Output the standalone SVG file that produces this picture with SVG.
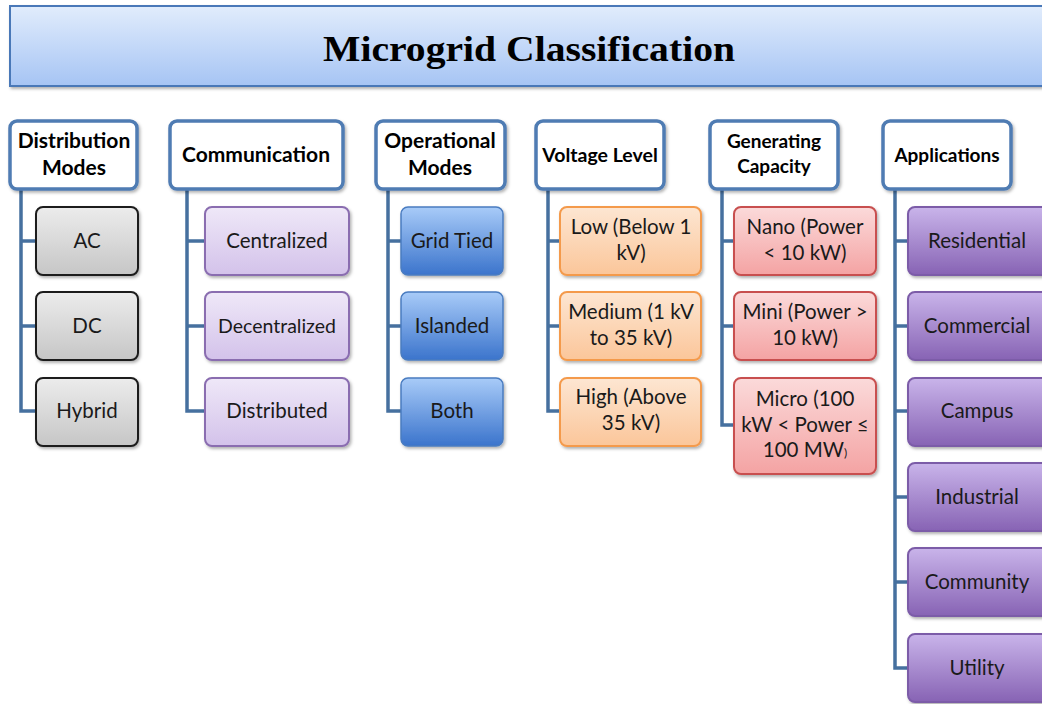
<svg xmlns="http://www.w3.org/2000/svg" width="1042" height="704" viewBox="0 0 1042 704">
<defs>
<linearGradient id="gTitle" x1="0" y1="0" x2="0" y2="1"><stop offset="0" stop-color="#e1ecfc"/><stop offset="1" stop-color="#a6c4f4"/></linearGradient>
<linearGradient id="gGray" x1="0" y1="0" x2="0" y2="1"><stop offset="0" stop-color="#ececec"/><stop offset="1" stop-color="#c6c6c6"/></linearGradient>
<linearGradient id="gLav" x1="0" y1="0" x2="0" y2="1"><stop offset="0" stop-color="#efe8f8"/><stop offset="1" stop-color="#d3c2ea"/></linearGradient>
<linearGradient id="gBlue" x1="0" y1="0" x2="0" y2="1"><stop offset="0" stop-color="#a8cbf8"/><stop offset="1" stop-color="#3b74cc"/></linearGradient>
<linearGradient id="gOrange" x1="0" y1="0" x2="0" y2="1"><stop offset="0" stop-color="#fde6d2"/><stop offset="1" stop-color="#fbc69a"/></linearGradient>
<linearGradient id="gRed" x1="0" y1="0" x2="0" y2="1"><stop offset="0" stop-color="#fbdada"/><stop offset="1" stop-color="#f4a3a3"/></linearGradient>
<linearGradient id="gPurple" x1="0" y1="0" x2="0" y2="1"><stop offset="0" stop-color="#c9b4ea"/><stop offset="1" stop-color="#8763b4"/></linearGradient>
<filter id="sh" x="-10%" y="-10%" width="125%" height="130%"><feDropShadow dx="1.5" dy="2" stdDeviation="1.5" flood-color="#000" flood-opacity="0.3"/></filter>
</defs>
<style>
.hdr{fill:#fff;stroke:#4f7bb3;stroke-width:3.5;filter:url(#sh)}
.ht{font-family:Lato,"Liberation Sans",sans-serif;font-weight:bold;font-size:21px;fill:#000;text-anchor:middle}
.ct{font-family:Lato,"Liberation Sans",sans-serif;font-size:20.5px;fill:#1a1a1a;text-anchor:middle}
.gray{fill:url(#gGray);stroke:#1e1e1e;stroke-width:2;filter:url(#sh)}
.lav{fill:url(#gLav);stroke:#8a6db0;stroke-width:2;filter:url(#sh)}
.blue{fill:url(#gBlue);stroke:#4a7cc0;stroke-width:1.5;filter:url(#sh)}
.orange{fill:url(#gOrange);stroke:#f49a4c;stroke-width:2;filter:url(#sh)}
.red{fill:url(#gRed);stroke:#c8504f;stroke-width:2;filter:url(#sh)}
.purple{fill:url(#gPurple);stroke:#7c5ca8;stroke-width:2;filter:url(#sh)}
.conn{fill:none;stroke:#46709f;stroke-width:3.5}
</style>
<rect width="1042" height="704" fill="#fff"/>
<g id="title">
<rect x="10" y="6" width="1040" height="80" fill="url(#gTitle)" stroke="#4a78b8" stroke-width="2" filter="url(#sh)"/>
<text x="529" y="61" font-family="'Liberation Serif',serif" font-weight="bold" font-size="36" text-anchor="middle" textLength="412" lengthAdjust="spacingAndGlyphs">Microgrid Classification</text>
</g>
<g id="connectors">
<path class="conn" d="M21 189V411H36M21 241H36M21 326H36"/>
<path class="conn" d="M187 189V411H205M187 241H205M187 326H205"/>
<path class="conn" d="M388 189V411H401M388 241H401M388 326H401"/>
<path class="conn" d="M548 189V411H560M548 241H560M548 326H560"/>
<path class="conn" d="M722 189V425H734M722 241H734M722 326H734"/>
<path class="conn" d="M895 189V668H908M895 241H908M895 326H908M895 411H908M895 497H908M895 582H908"/>
</g>
<g id="h-distribution"><rect class="hdr" x="10" y="121" width="127" height="68" rx="7"/><text class="ht" x="74" y="148">Distribution</text><text class="ht" x="74" y="175">Modes</text></g>
<g id="h-communication"><rect class="hdr" x="170" y="121" width="173" height="68" rx="7"/><text class="ht" x="256" y="162">Communication</text></g>
<g id="h-operational"><rect class="hdr" x="376" y="121" width="129" height="68" rx="7"/><text class="ht" x="440" y="148">Operational</text><text class="ht" x="440" y="175">Modes</text></g>
<g id="h-voltage"><rect class="hdr" x="536" y="121" width="128" height="68" rx="7"/><text class="ht" x="600" y="162" style="font-size:19.5px">Voltage Level</text></g>
<g id="h-generating"><rect class="hdr" x="710" y="121" width="128" height="68" rx="7"/><text class="ht" x="774" y="148" style="font-size:19px">Generating</text><text class="ht" x="774" y="173" style="font-size:19px">Capacity</text></g>
<g id="h-applications"><rect class="hdr" x="883" y="121" width="128" height="68" rx="7"/><text class="ht" x="947" y="162" style="font-size:19px">Applications</text></g>

<g id="ac"><rect class="gray" x="36" y="207" width="102" height="68" rx="7"/><text class="ct" x="87" y="248">AC</text></g>
<g id="dc"><rect class="gray" x="36" y="292" width="102" height="68" rx="7"/><text class="ct" x="87" y="333">DC</text></g>
<g id="hybrid"><rect class="gray" x="36" y="378" width="102" height="68" rx="7"/><text class="ct" x="87" y="418">Hybrid</text></g>

<g id="centralized"><rect class="lav" x="205" y="207" width="144" height="68" rx="7"/><text class="ct" x="277" y="248">Centralized</text></g>
<g id="decentralized"><rect class="lav" x="205" y="292" width="144" height="68" rx="7"/><text class="ct" x="277" y="333" style="font-size:19.5px">Decentralized</text></g>
<g id="distributed"><rect class="lav" x="205" y="378" width="144" height="68" rx="7"/><text class="ct" x="277" y="418">Distributed</text></g>

<g id="gridtied"><rect class="blue" x="401" y="207" width="102" height="68" rx="7"/><text class="ct" x="452" y="248">Grid Tied</text></g>
<g id="islanded"><rect class="blue" x="401" y="292" width="102" height="68" rx="7"/><text class="ct" x="452" y="333">Islanded</text></g>
<g id="both"><rect class="blue" x="401" y="378" width="102" height="68" rx="7"/><text class="ct" x="452" y="418">Both</text></g>

<g id="low"><rect class="orange" x="560" y="207" width="141" height="68" rx="7"/><text class="ct" x="631" y="234">Low (Below 1</text><text class="ct" x="631" y="260">kV)</text></g>
<g id="medium"><rect class="orange" x="560" y="292" width="141" height="68" rx="7"/><text class="ct" x="631" y="319">Medium (1 kV</text><text class="ct" x="631" y="345">to 35 kV)</text></g>
<g id="high"><rect class="orange" x="560" y="378" width="141" height="68" rx="7"/><text class="ct" x="631" y="404">High (Above</text><text class="ct" x="631" y="430">35 kV)</text></g>

<g id="nano"><rect class="red" x="734" y="207" width="142" height="68" rx="7"/><text class="ct" x="805" y="234">Nano (Power</text><text class="ct" x="805" y="260">&lt; 10 kW)</text></g>
<g id="mini"><rect class="red" x="734" y="292" width="142" height="68" rx="7"/><text class="ct" x="805" y="319">Mini (Power &gt;</text><text class="ct" x="805" y="345">10 kW)</text></g>
<g id="micro"><rect class="red" x="734" y="378" width="142" height="96" rx="7"/><text class="ct" x="805" y="406">Micro (100</text><text class="ct" x="805" y="432">kW &lt; Power  ≤</text><text class="ct" x="805" y="457">100 MW<tspan font-size="12">)</tspan></text></g>

<g id="residential"><rect class="purple" x="908" y="207" width="144" height="68" rx="7"/><text class="ct" x="977" y="248">Residential</text></g>
<g id="commercial"><rect class="purple" x="908" y="292" width="144" height="68" rx="7"/><text class="ct" x="977" y="333">Commercial</text></g>
<g id="campus"><rect class="purple" x="908" y="378" width="144" height="68" rx="7"/><text class="ct" x="977" y="418">Campus</text></g>
<g id="industrial"><rect class="purple" x="908" y="463" width="144" height="68" rx="7"/><text class="ct" x="977" y="504">Industrial</text></g>
<g id="community"><rect class="purple" x="908" y="548" width="144" height="68" rx="7"/><text class="ct" x="977" y="589">Community</text></g>
<g id="utility"><rect class="purple" x="908" y="634" width="144" height="68" rx="7"/><text class="ct" x="977" y="675">Utility</text></g>
</svg>
